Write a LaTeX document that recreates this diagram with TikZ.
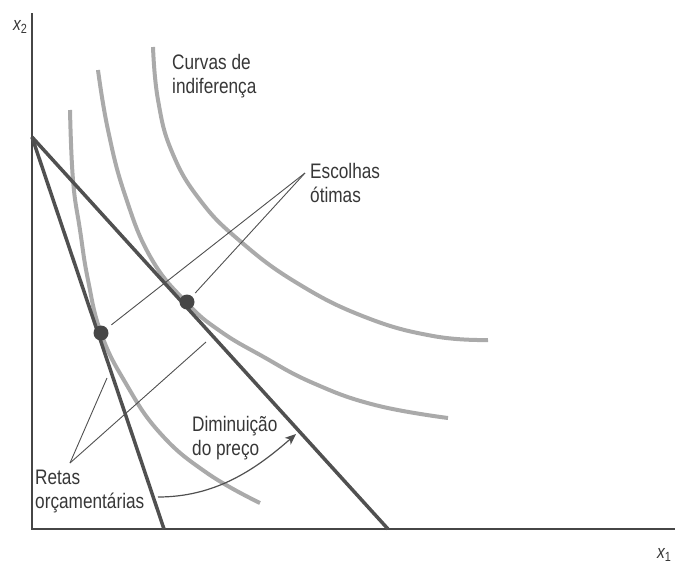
\documentclass[tikz,border=0pt]{standalone}
\usepackage{fontspec}
\newfontfamily\labelfont[FakeStretch=0.82]{Liberation Sans}
\usetikzlibrary{arrows.meta, positioning}
\definecolor{axisgray}{RGB}{70,70,70}
\definecolor{linegray}{RGB}{80,80,80}
\definecolor{curvegray}{RGB}{170,170,170}
\definecolor{textgray}{RGB}{55,55,55}

\begin{document}
\begin{tikzpicture}[x=1pt, y=-1pt,
  axis/.style={axisgray, line width=2pt},
  budget/.style={linegray, line width=3.5pt},
  indiff/.style={curvegray, line width=4pt},
  optpt/.style={circle, fill=axisgray, inner sep=0pt, minimum size=15pt},
  lbl/.style={font=\labelfont\fontsize{21}{24}\selectfont, text=textgray, align=left, inner sep=0pt, anchor=base west},
  pointer/.style={linegray, line width=0.9pt}]
  \useasboundingbox (0,0) rectangle (675,563);

  % Axes
  \coordinate (O) at (32,529);
  \draw[axis] (32,13) -- (O) -- (675,529);
  \node[lbl, font=\labelfont\itshape\fontsize{19}{22}\selectfont] (xtwo) at (13,30) {x\textsubscript{\upshape 2}};
  \node[lbl, font=\labelfont\itshape\fontsize{19}{22}\selectfont] (xone) at (657,558) {x\textsubscript{\upshape 1}};

  % Indifference curves
  \draw[indiff] plot[smooth, tension=0.75] coordinates {(70,110) (73,180) (80,230) (88,280) (101,333) (125,382) (160,433) (207,473) (260,503)};
  \draw[indiff] plot[smooth, tension=0.75] coordinates {(98,70) (108,130) (125,195) (151,258) (187,303) (220,331) (262,356) (313,383) (375,405) (448,418)};
  \draw[indiff] plot[smooth, tension=0.75] coordinates {(153,47) (158,100) (172,152) (200,200) (240,241) (297,283) (365,317) (433,336) (488,340)};

  % Budget lines
  \coordinate (top) at (32,137);
  \coordinate (steepEnd) at (164,529);
  \coordinate (flatEnd) at (388,529);
  \draw[budget] (top) -- (steepEnd);
  \draw[budget] (top) -- (flatEnd);

  % Optimal choices
  \node[optpt] (opt1) at (101,333) {};
  \node[optpt] (opt2) at (187,302) {};

  % Labels (base = last line)
  \node[lbl] (curvas) at (172,93) {Curvas de\\indiferença};
  \node[lbl] (escolhas) at (310,202) {Escolhas\\ótimas};
  \node[lbl] (retas) at (35,508) {Retas\\orçamentárias};
  \node[lbl] (dimin) at (192,455) {Diminuição\\do preço};

  % Pointers
  \coordinate (escTip) at (305,173);
  \draw[pointer, shorten >=5.5pt] (escTip) -- (opt1);
  \draw[pointer, shorten >=4.5pt] (escTip) -- (opt2);
  \coordinate (retTip) at (70,463);
  \coordinate (retSteep) at (107,378);
  \coordinate (retFlat) at (206,342);
  \draw[pointer] (retTip) -- (retSteep);
  \draw[pointer] (retTip) -- (retFlat);

  % Price decrease arrow
  \coordinate (arrStart) at (158,497);
  \coordinate (arrEnd) at (296,434);
  \draw[pointer, line width=1.2pt, -{Stealth[length=11pt, width=9pt, inset=3pt]}] (arrStart) .. controls (215,497) and (255,470) .. (arrEnd);
\end{tikzpicture}
\end{document}
